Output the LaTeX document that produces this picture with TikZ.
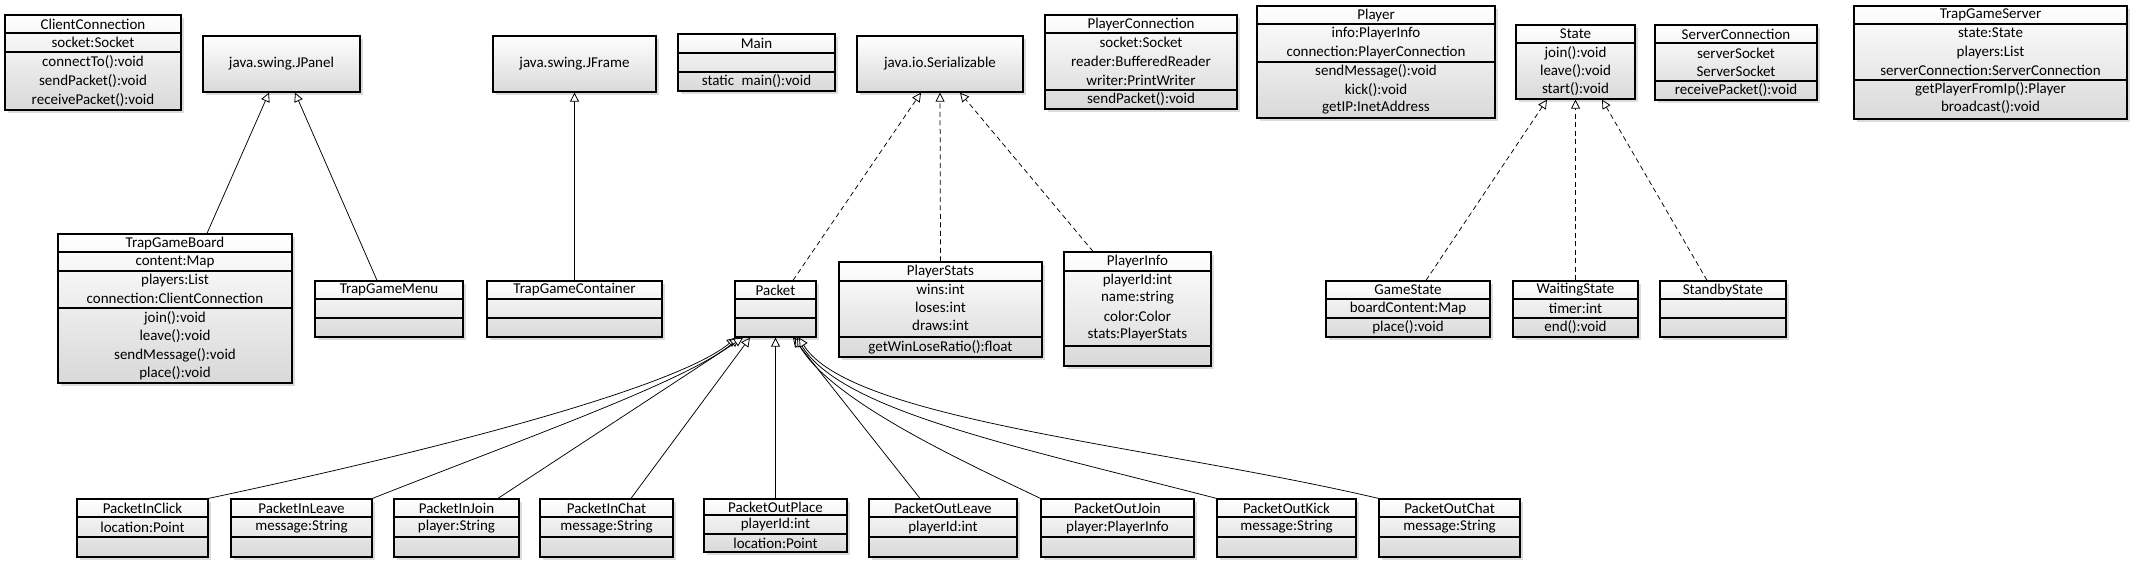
\documentclass[tikz,border=0pt]{standalone}
\usepackage{fontspec}
\setmainfont{Carlito}
\usetikzlibrary{arrows.meta,shadows,fit,calc}
\tikzset{
  clsbox/.style={draw, line width=1.3pt, top color=white, bottom color=black!15, inner sep=0pt,
    drop shadow={shadow xshift=3pt, shadow yshift=-3pt, fill=black!30, opacity=0.45}},
  sepline/.style={line width=1.2pt},
  txt/.style={font=\fontsize{15}{17}\selectfont, inner sep=0pt},
  gen/.style={-{Triangle[open, fill=white, length=9pt, width=9pt, line width=0.8pt]}, line width=0.75pt},
  real/.style={gen, dash pattern=on 5pt off 3.5pt}
}
\newcommand\umlcls[6]{%
  \node[clsbox, fit={(#2,#3) (#4,#5)}] (#1) {};
  \foreach \s in {#6} {\draw[sepline] (#1.west |- 0,\s) -- (#1.east |- 0,\s);}
}
\newcommand\umltxt[2]{%
  \foreach \yy/\tx [count=\i] in {#2} {\node[txt] (#1-t\i) at (#1.center |- 0,\yy) {\tx};}
}
\begin{document}
\begin{tikzpicture}[x=1pt,y=-1pt]
\useasboundingbox (0,0) rectangle (2140,560);

% ---------- top row ----------
\umlcls{cc}{5}{15}{181}{110}{33,52}
\umltxt{cc}{24/ClientConnection, 42.5/socket:Socket, 62/connectTo():void, 81/sendPacket():void, 100/receivePacket():void}

\node[clsbox, fit={(203,36) (360,92)}] (jpanel) {};
\node[txt] (jpanel-t) at (jpanel.center) {java.swing.JPanel};

\node[clsbox, fit={(493,36) (656,92)}] (jframe) {};
\node[txt] (jframe-t) at (jframe.center) {java.swing.JFrame};

\umlcls{main}{678}{34}{835}{91}{53,72}
\umltxt{main}{43/Main, 81.5/static\enspace main():void}

\node[clsbox, fit={(857,36) (1023,92)}] (ser) {};
\node[txt] (ser-t) at (ser.center) {java.io.Serializable};

\umlcls{pc}{1045}{15}{1237}{109}{33,90}
\umltxt{pc}{24/PlayerConnection, 42/socket:Socket, 61/reader:BufferedReader, 80/writer:PrintWriter, 99.5/sendPacket():void}

\umlcls{player}{1257}{6}{1495}{118}{24,62}
\umltxt{player}{15/Player, 33/info:PlayerInfo, 52/connection:PlayerConnection, 71/sendMessage():void, 90/kick():void, 108/getIP:InetAddress}

\umlcls{state}{1516}{25}{1635}{99}{43}
\umltxt{state}{34/State, 53/join():void, 71/leave():void, 89.5/start():void}

\umlcls{sc}{1655}{25}{1817}{100}{43,81}
\umltxt{sc}{34/ServerConnection, 53/serverSocket, 71/ServerSocket, 90.5/receivePacket():void}

\umlcls{tgs}{1854}{6}{2127}{119}{24,80}
\umltxt{tgs}{15/TrapGameServer, 33/state:State, 52/players:List, 70/serverConnection:ServerConnection, 89/getPlayerFromIp():Player, 107/broadcast():void}

% ---------- middle row ----------
\umlcls{tgb}{58}{234}{292}{383}{252,271,308}
\umltxt{tgb}{243/TrapGameBoard, 261.5/content:Map, 280/players:List, 298/connection:ClientConnection, 318/join():void, 336/leave():void, 355/sendMessage():void, 373/place():void}

\umlcls{tgm}{315}{281}{463}{337}{299,318}
\umltxt{tgm}{290/TrapGameMenu}

\umlcls{tgc}{487}{281}{662}{337}{299,318}
\umltxt{tgc}{290/TrapGameContainer}

\umlcls{packet}{735}{281}{816}{337}{299,318}
\umltxt{packet}{290/Packet}

\umlcls{ps}{839}{262}{1042}{357}{281,337}
\umltxt{ps}{271/PlayerStats, 289/wins:int, 307/loses:int, 325/draws:int, 347/getWinLoseRatio():float}

\umlcls{pi}{1064}{252}{1211}{366}{271,346}
\umltxt{pi}{261/PlayerInfo, 280/playerId:int, 298/name:string, 316/color:Color, 334/stats:PlayerStats}

\umlcls{gs}{1326}{281}{1490}{337}{299,318}
\umltxt{gs}{290/GameState, 308.5/boardContent:Map, 327.5/place():void}

\umlcls{ws}{1513}{281}{1638}{337}{299,318}
\umltxt{ws}{290/WaitingState, 308.5/timer:int, 327.5/end():void}

\umlcls{ss}{1660}{281}{1786}{337}{299,318}
\umltxt{ss}{290/StandbyState}

% ---------- bottom row ----------
\umlcls{pic}{77}{499}{208}{557}{517,537}
\umltxt{pic}{508/PacketInClick, 527/location:Point}
\umlcls{pil}{231}{499}{372}{557}{517,537}
\umltxt{pil}{508/PacketInLeave, 527/message:String}
\umlcls{pij}{394}{499}{519}{557}{517,537}
\umltxt{pij}{508/PacketInJoin, 527/player:String}
\umlcls{pich}{540}{499}{673}{557}{517,537}
\umltxt{pich}{508/PacketInChat, 527/message:String}
\umlcls{pop}{704}{499}{847}{552}{515,534}
\umltxt{pop}{507/PacketOutPlace, 524.5/playerId:int, 543/location:Point}
\umlcls{pol}{869}{499}{1017}{557}{517,537}
\umltxt{pol}{508/PacketOutLeave, 527/playerId:int}
\umlcls{poj}{1041}{499}{1194}{557}{517,537}
\umltxt{poj}{508/PacketOutJoin, 527/player:PlayerInfo}
\umlcls{pok}{1217}{499}{1356}{557}{517,537}
\umltxt{pok}{508/PacketOutKick, 527/message:String}
\umlcls{poc}{1379}{499}{1520}{557}{517,537}
\umltxt{poc}{508/PacketOutChat, 527/message:String}

% ---------- connectors ----------
\draw[gen] ([xshift=32pt]tgb.north) -- ([xshift=-12.5pt]jpanel.south);
\draw[gen] ([xshift=-12pt]tgm.north) -- ([xshift=13.5pt]jpanel.south);
\draw[gen] (tgc.north) -- (jframe.south);

\draw[real] ([xshift=17.5pt]packet.north) -- ([xshift=-19pt]ser.south);
\draw[real] (ps.north) -- (ser.south);
\draw[real] ([xshift=-44.5pt]pi.north) -- ([xshift=20pt]ser.south);

\draw[real] ([xshift=18pt]gs.north) -- ([xshift=-28.5pt]state.south);
\draw[real] (ws.north) -- (state.south);
\draw[real] ([xshift=-16pt]ss.north) -- ([xshift=26.5pt]state.south);

\draw[gen] (pic.north east) .. controls (460,445) and (680,385) .. ([xshift=-39.5pt]packet.south);
\draw[gen] (pil.north east) .. controls (520,440) and (690,380) .. ([xshift=-36.5pt]packet.south);
\draw[gen] ([xshift=41.5pt]pij.north) -- ([xshift=-32.5pt]packet.south);
\draw[gen] ([xshift=24.5pt]pich.north) -- ([xshift=-25.5pt]packet.south);
\draw[gen] (pop.north) -- (packet.south);
\draw[gen] ([xshift=-23pt]pol.north) -- ([xshift=17.5pt]packet.south);
\draw[gen] (poj.north west) .. controls (960,460) and (830,400) .. ([xshift=19.5pt]packet.south);
\draw[gen] (pok.north west) .. controls (1010,445) and (840,410) .. ([xshift=21.5pt]packet.south);
\draw[gen] (poc.north west) .. controls (1150,445) and (850,420) .. ([xshift=23.5pt]packet.south);
\end{tikzpicture}
\end{document}
